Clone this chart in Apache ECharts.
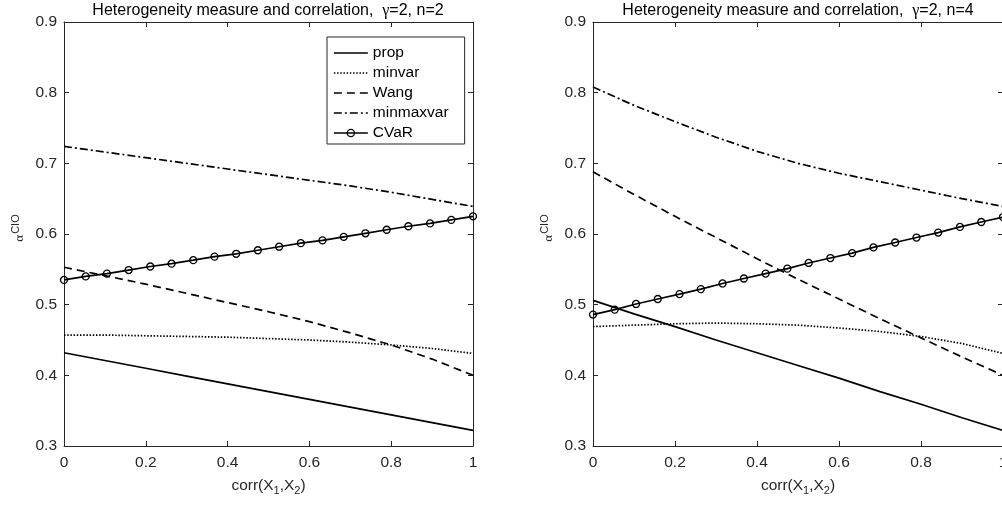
<!DOCTYPE html>
<html>
<head>
<meta charset="utf-8">
<script src="https://cdn.jsdelivr.net/npm/echarts@6/dist/echarts.min.js"></script>
<style>
html,body{margin:0;padding:0;background:#fff;}
#c{width:1002px;height:505px;}
</style>
</head>
<body>
<div id="c"></div>
<script>
// ---- data ----
const xGrid = [0, 0.1, 0.2, 0.3, 0.4, 0.5, 0.6, 0.7, 0.8, 0.9, 1];
const xCvar = [0, 0.053, 0.105, 0.158, 0.211, 0.263, 0.316, 0.368, 0.421, 0.474, 0.526, 0.579, 0.632, 0.684, 0.737, 0.789, 0.842, 0.895, 0.947, 1];

// left panel: gamma=2, n=2
const propN2      = [0.432, 0.421, 0.410, 0.399, 0.388, 0.377, 0.366, 0.355, 0.344, 0.333, 0.322];
const minvarN2    = [0.457, 0.457, 0.456, 0.455, 0.454, 0.452, 0.450, 0.447, 0.443, 0.438, 0.431];
const wangN2      = [0.553, 0.541, 0.529, 0.516, 0.503, 0.490, 0.476, 0.460, 0.443, 0.423, 0.400];
const minmaxvarN2 = [0.724, 0.716, 0.708, 0.700, 0.692, 0.684, 0.676, 0.668, 0.659, 0.649, 0.639];
const cvarN2      = [0.535, 0.540, 0.544, 0.549, 0.554, 0.558, 0.563, 0.568, 0.572, 0.577, 0.582, 0.587, 0.591, 0.596, 0.601, 0.606, 0.611, 0.615, 0.620, 0.625];

// right panel: gamma=2, n=4
const propN4      = [0.506, 0.487, 0.469, 0.450, 0.432, 0.414, 0.396, 0.377, 0.359, 0.340, 0.322];
const minvarN4    = [0.469, 0.471, 0.473, 0.474, 0.473, 0.471, 0.467, 0.462, 0.455, 0.445, 0.431];
const wangN4      = [0.688, 0.656, 0.625, 0.595, 0.565, 0.536, 0.508, 0.480, 0.453, 0.426, 0.400];
const minmaxvarN4 = [0.808, 0.782, 0.759, 0.737, 0.717, 0.700, 0.686, 0.674, 0.662, 0.650, 0.639];
const cvarN4      = [0.486, 0.493, 0.501, 0.508, 0.515, 0.522, 0.530, 0.537, 0.544, 0.551, 0.559, 0.566, 0.573, 0.581, 0.588, 0.595, 0.602, 0.610, 0.617, 0.624];

const seriesNames = ['prop', 'minvar', 'Wang', 'minmaxvar', 'CVaR'];
const titles = ['Heterogeneity measure and correlation,  {g|γ}=2, n=2', 'Heterogeneity measure and correlation,  {g|γ}=2, n=4'];
const xName = 'corr(X{s|1},X{s|2})';
const yName = '{a|α}{s|CIO}';

// ---- styles ----
const AX = '#262626';
const LW = 1.7;
const FS = 15.5;
const dashTypes = {
  prop: 'solid',
  minvar: [1.5, 1.7],
  Wang: [8, 5],
  minmaxvar: [8, 3, 2, 3],
  CVaR: 'solid'
};

function pairs(xs, ys) { return xs.map((x, i) => [x, ys[i]]); }

function mkXAxis(gridIndex, pos) {
  const a = {
    type: 'value', gridIndex, position: pos, min: 0, max: 1, interval: 0.2,
    splitLine: {show: false},
    axisLine: {show: true, onZero: false, lineStyle: {color: AX, width: 1}},
    axisTick: {show: true, inside: true, length: 5, lineStyle: {color: AX, width: 1}},
    axisLabel: {show: pos === 'bottom', color: AX, fontSize: FS, margin: 9, fontFamily: 'Liberation Sans'}
  };
  if (pos === 'bottom') {
    a.name = xName;
    a.nameLocation = 'middle';
    a.nameGap = 30;
    a.nameTextStyle = {color: AX, fontSize: FS, fontFamily: 'Liberation Sans',
      rich: {s: {fontSize: 11, color: AX, fontFamily: 'Liberation Sans', padding: [9, 0, 0, 0]}}};
  }
  return a;
}
function mkYAxis(gridIndex, pos) {
  const a = {
    type: 'value', gridIndex, position: pos, min: 0.3, max: 0.9, interval: 0.1,
    splitLine: {show: false},
    axisLine: {show: true, onZero: false, lineStyle: {color: AX, width: 1}},
    axisTick: {show: true, inside: true, length: 5, lineStyle: {color: AX, width: 1}},
    axisLabel: {show: pos === 'left', color: AX, fontSize: FS, margin: 7, fontFamily: 'Liberation Sans'}
  };
  if (pos === 'left') {
    a.name = yName;
    a.nameLocation = 'middle';
    a.nameGap = 34;
    a.nameTextStyle = {color: AX, fontSize: 13,
      rich: {
        a: {fontFamily: 'Liberation Serif', fontSize: 13, color: AX, padding: [0, 0, 0, 12]},
        s: {fontFamily: 'Liberation Sans', fontSize: 11, color: AX, padding: [0, 0, 9, 1]}
      }};
  }
  return a;
}

function mkSeries(name, xs, ys, axIdx) {
  const s = {
    name, type: 'line', xAxisIndex: axIdx, yAxisIndex: axIdx,
    data: pairs(xs, ys),
    silent: true, animation: false, smooth: false,
    lineStyle: {color: '#000', width: LW, type: dashTypes[name]},
    emphasis: {disabled: true}
  };
  if (name === 'CVaR') {
    s.symbol = 'circle';
    s.symbolSize = 7;
    s.showSymbol = true;
    s.itemStyle = {color: 'rgba(0,0,0,0)', borderColor: '#000', borderWidth: 1.3};
  } else {
    s.symbol = 'none';
    s.itemStyle = {color: '#000'};
  }
  return s;
}

const leftSets = {prop: propN2, minvar: minvarN2, Wang: wangN2, minmaxvar: minmaxvarN2, CVaR: cvarN2};
const rightSets = {prop: propN4, minvar: minvarN4, Wang: wangN4, minmaxvar: minmaxvarN4, CVaR: cvarN4};

const series = [];
seriesNames.forEach(n => series.push(mkSeries(n, n === 'CVaR' ? xCvar : xGrid, leftSets[n], 0)));
seriesNames.forEach(n => series.push(mkSeries(n, n === 'CVaR' ? xCvar : xGrid, rightSets[n], 2)));

const legendData = seriesNames.map(n => {
  const item = {name: n, lineStyle: {color: '#000', width: LW, type: dashTypes[n]}};
  if (n === 'CVaR') {
    item.itemStyle = {color: 'rgba(0,0,0,0)', borderColor: '#000', borderWidth: 1.3, opacity: 1};
  } else {
    item.itemStyle = {color: 'rgba(0,0,0,0)', borderColor: 'rgba(0,0,0,0)', borderWidth: 0, opacity: 0};
  }
  return item;
});

const chart = echarts.init(document.getElementById('c'), null, {renderer: 'canvas'});
chart.setOption({
  animation: false,
  backgroundColor: '#fff',
  textStyle: {fontFamily: 'Liberation Sans'},
  title: [
    {text: titles[0], left: 268, top: 3, textAlign: 'center', padding: 0,
     textStyle: {fontSize: 16, fontWeight: 'normal', color: '#000', fontFamily: 'Liberation Sans',
       rich: {g: {fontFamily: 'Liberation Serif', fontSize: 16, color: '#000'}}}},
    {text: titles[1], left: 798, top: 3, textAlign: 'center', padding: 0,
     textStyle: {fontSize: 16, fontWeight: 'normal', color: '#000', fontFamily: 'Liberation Sans',
       rich: {g: {fontFamily: 'Liberation Serif', fontSize: 16, color: '#000'}}}}
  ],
  legend: {
    data: legendData, orient: 'vertical', left: 327, top: 37,
    itemWidth: 34, itemHeight: 9, itemGap: 4,
    padding: [8, 16, 3, 6],
    borderColor: AX, borderWidth: 1, backgroundColor: '#fff',
    textStyle: {fontSize: FS, color: '#000', fontFamily: 'Liberation Sans'},
    selectedMode: false
  },
  grid: [
    {left: 64, top: 22, width: 409, height: 424, outerBoundsMode: 'none'},
    {left: 593, top: 22, width: 410, height: 424, outerBoundsMode: 'none'}
  ],
  xAxis: [mkXAxis(0, 'bottom'), mkXAxis(0, 'top'), mkXAxis(1, 'bottom'), mkXAxis(1, 'top')],
  yAxis: [mkYAxis(0, 'left'), mkYAxis(0, 'right'), mkYAxis(1, 'left'), mkYAxis(1, 'right')],
  series
});
</script>
</body>
</html>
